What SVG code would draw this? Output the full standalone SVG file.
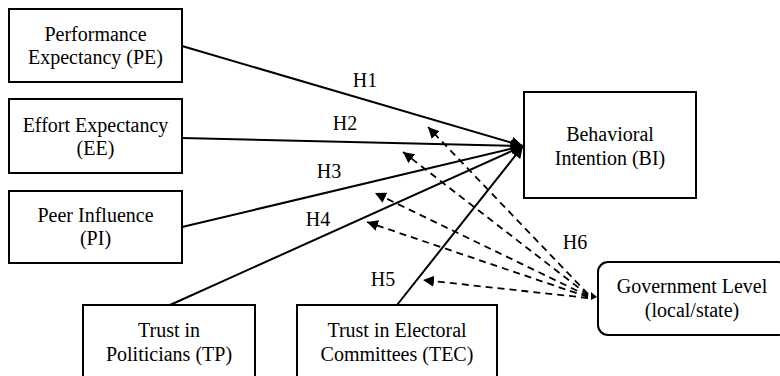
<svg xmlns="http://www.w3.org/2000/svg" width="780" height="376" viewBox="0 0 780 376">
<defs>
<style>
.box{fill:#fff;stroke:#000;stroke-width:2}
.t{font-size:20px;fill:#000;text-anchor:middle}
.s{stroke:#000;stroke-width:2;fill:none}
.d{stroke:#000;stroke-width:1.8;fill:none;stroke-dasharray:7,5}
</style>
<marker id="big" viewBox="0 0 10 10" refX="10" refY="5" markerWidth="12" markerHeight="12" markerUnits="userSpaceOnUse" orient="auto">
<path d="M0,0 L10,5 L0,10 Z" fill="#000"/>
</marker>
<marker id="sm" viewBox="0 0 10 10" refX="10" refY="5" markerWidth="11" markerHeight="11" markerUnits="userSpaceOnUse" orient="auto">
<path d="M0,0 L10,5 L0,10 Z" fill="#000"/>
</marker>
</defs>
<rect width="780" height="376" fill="#fff"/>
<g font-family="Liberation Serif, Tinos, DejaVu Serif, serif">
<g id="connectors">
<line class="s" x1="182" y1="46" x2="523" y2="146" marker-end="url(#big)"/>
<line class="s" x1="182" y1="138" x2="523" y2="146" marker-end="url(#big)"/>
<line class="s" x1="182" y1="227" x2="523" y2="146" marker-end="url(#big)"/>
<line class="s" x1="170" y1="305" x2="523" y2="146" marker-end="url(#big)"/>
<line class="s" x1="397" y1="305" x2="523" y2="146" marker-end="url(#big)"/>
<line class="d" x1="588" y1="294" x2="428" y2="127" marker-end="url(#sm)"/>
<line class="d" x1="588" y1="295" x2="403" y2="152" marker-end="url(#sm)"/>
<line class="d" x1="588" y1="296" x2="375" y2="193" marker-end="url(#sm)"/>
<line class="d" x1="588" y1="297" x2="367" y2="222" marker-end="url(#sm)"/>
<line class="d" x1="588" y1="298" x2="423" y2="280" marker-end="url(#sm)"/>
<path d="M591,292 L597,297 L591,300 Z" fill="#000"/>
<text class="t" x="365" y="87">H1</text>
<text class="t" x="345" y="130">H2</text>
<text class="t" x="329" y="178">H3</text>
<text class="t" x="318" y="226">H4</text>
<text class="t" x="383" y="286">H5</text>
<text class="t" x="575" y="249">H6</text>
</g>
<g id="PE">
<rect class="box" x="9" y="9" width="173" height="73"/>
<text class="t" x="95.5" y="41">Performance</text>
<text class="t" x="95.5" y="64">Expectancy (PE)</text>
</g>
<g id="EE">
<rect class="box" x="9" y="99" width="173" height="74"/>
<text class="t" x="95.5" y="132">Effort Expectancy</text>
<text class="t" x="95.5" y="155">(EE)</text>
</g>
<g id="PI">
<rect class="box" x="9" y="191" width="173" height="72"/>
<text class="t" x="95.5" y="222">Peer Influence</text>
<text class="t" x="95.5" y="245">(PI)</text>
</g>
<g id="TP">
<rect class="box" x="83" y="305" width="172" height="80"/>
<text class="t" x="169" y="337">Trust in</text>
<text class="t" x="169" y="361">Politicians (TP)</text>
</g>
<g id="TEC">
<rect class="box" x="297" y="305" width="200" height="80"/>
<text class="t" x="397" y="337">Trust in Electoral</text>
<text class="t" x="397" y="361">Committees (TEC)</text>
</g>
<g id="BI">
<rect class="box" x="524" y="92" width="172" height="106"/>
<text class="t" x="610" y="141">Behavioral</text>
<text class="t" x="610" y="165">Intention (BI)</text>
</g>
<g id="GOV">
<rect class="box" x="598" y="262" width="190" height="73" rx="10" ry="10"/>
<text class="t" x="692" y="293">Government Level</text>
<text class="t" x="692" y="317">(local/state)</text>
</g>
</g>
</svg>
